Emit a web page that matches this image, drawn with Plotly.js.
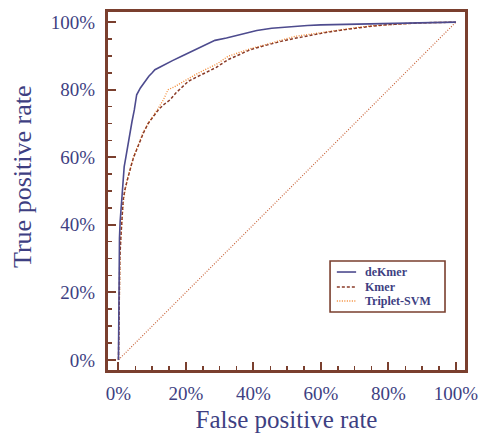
<!DOCTYPE html>
<html>
<head>
<meta charset="utf-8">
<script src="https://cdn.plot.ly/plotly-3.0.1.min.js"></script>
<style>html,body{margin:0;padding:0;background:#fff;}#chart{width:489px;height:433px;}</style>
</head>
<body>
<div id="chart"></div>
<script>
// ROC curves
const deKmerFPR = [0, 0.001, 0.003, 0.005, 0.007, 0.009, 0.013, 0.017, 0.022, 0.028, 0.034, 0.04, 0.047, 0.054, 0.065, 0.079, 0.09, 0.1, 0.108, 0.125, 0.138, 0.16, 0.187, 0.21, 0.227, 0.256, 0.286, 0.32, 0.35, 0.375, 0.41, 0.454, 0.49, 0.523, 0.56, 0.6, 0.656, 0.7, 0.75, 0.804, 0.85, 0.89, 0.95, 1.0];
const deKmerTPR = [0, 0.2, 0.36, 0.41, 0.44, 0.474, 0.52, 0.572, 0.6, 0.64, 0.673, 0.705, 0.74, 0.785, 0.805, 0.825, 0.84, 0.85, 0.859, 0.868, 0.874, 0.886, 0.899, 0.91, 0.92, 0.933, 0.946, 0.953, 0.96, 0.968, 0.975, 0.982, 0.985, 0.988, 0.99, 0.992, 0.993, 0.995, 0.996, 0.997, 0.998, 0.999, 1.0, 1.0];

const kmerFPR = [0, 0.002, 0.004, 0.007, 0.009, 0.012, 0.014, 0.019, 0.025, 0.031, 0.037, 0.045, 0.054, 0.064, 0.074, 0.088, 0.103, 0.118, 0.133, 0.153, 0.17, 0.19, 0.207, 0.227, 0.256, 0.29, 0.325, 0.36, 0.39, 0.424, 0.46, 0.49, 0.523, 0.56, 0.607, 0.65, 0.706, 0.75, 0.804, 0.85, 0.9, 0.95, 1.0];
const kmerTPR = [0, 0.2, 0.3, 0.36, 0.406, 0.44, 0.474, 0.504, 0.53, 0.55, 0.573, 0.6, 0.622, 0.648, 0.672, 0.7, 0.721, 0.74, 0.755, 0.77, 0.79, 0.81, 0.825, 0.835, 0.849, 0.866, 0.889, 0.905, 0.918, 0.928, 0.938, 0.945, 0.952, 0.96, 0.968, 0.975, 0.983, 0.988, 0.993, 0.996, 0.998, 0.999, 1.0];

const tripletFPR = [0, 0.003, 0.005, 0.008, 0.01, 0.013, 0.016, 0.02, 0.026, 0.032, 0.038, 0.046, 0.054, 0.063, 0.074, 0.088, 0.103, 0.118, 0.133, 0.138, 0.147, 0.165, 0.185, 0.207, 0.227, 0.256, 0.29, 0.325, 0.36, 0.39, 0.424, 0.46, 0.49, 0.523, 0.56, 0.607, 0.65, 0.706, 0.75, 0.804, 0.85, 0.9, 0.95, 1.0];
const tripletTPR = [0, 0.22, 0.32, 0.38, 0.42, 0.45, 0.48, 0.508, 0.535, 0.555, 0.578, 0.605, 0.625, 0.65, 0.675, 0.7, 0.722, 0.745, 0.77, 0.78, 0.8, 0.808, 0.82, 0.834, 0.844, 0.859, 0.875, 0.899, 0.912, 0.921, 0.93, 0.94, 0.948, 0.958, 0.963, 0.97, 0.977, 0.984, 0.989, 0.993, 0.996, 0.998, 0.999, 1.0];

const chanceX = [0, 1];
const chanceY = [0, 1];

const seriesNames = ["deKmer", "Kmer", "Triplet-SVM"];
const tickVals = [0, 0.2, 0.4, 0.6, 0.8, 1.0];
const tickText = ["0%", "20%", "40%", "60%", "80%", "100%"];

const frameColor = "#7a3f2e";
const textColor = "#3e3f82";
const serif = "'Liberation Serif', 'Times New Roman', serif";

const seriesColors = ["#4d4b8e", "#8a3b28", "#f2862e"];
const seriesDash = ["solid", "3px,2px", "1px,1.5px"];
const seriesWidth = [1.6, 1.5, 1.3];

const traces = [
  {x: chanceX, y: chanceY, mode: "lines", showlegend: false, hoverinfo: "skip",
   line: {color: "#c8643a", width: 1.2, dash: "1px,1.6px"}},
  {x: tripletFPR, y: tripletTPR, mode: "lines", name: seriesNames[2], showlegend: false,
   line: {color: seriesColors[2], width: seriesWidth[2], dash: seriesDash[2]}},
  {x: kmerFPR, y: kmerTPR, mode: "lines", name: seriesNames[1], showlegend: false,
   line: {color: seriesColors[1], width: seriesWidth[1], dash: seriesDash[1]}},
  {x: deKmerFPR, y: deKmerTPR, mode: "lines", name: seriesNames[0], showlegend: false,
   line: {color: seriesColors[0], width: seriesWidth[0], dash: seriesDash[0]}}
];

// legend box drawn in paper coordinates
const legendBox = {x0: 0.622, x1: 0.944, y0: 0.162, y1: 0.3045};
const legendRowsY = [0.2737, 0.2318, 0.1927];
const legendLineX = [0.641, 0.695];
const legendTextX = 0.715;

const shapes = [
  {type: "rect", xref: "paper", yref: "paper", x0: legendBox.x0, x1: legendBox.x1, y0: legendBox.y0, y1: legendBox.y1,
   line: {color: frameColor, width: 1.6}, fillcolor: "#ffffff", layer: "above"}
];
const annotations = [];
seriesNames.forEach((n, i) => {
  shapes.push({type: "line", xref: "paper", yref: "paper", x0: legendLineX[0], x1: legendLineX[1],
    y0: legendRowsY[i], y1: legendRowsY[i], layer: "above",
    line: {color: seriesColors[i], width: seriesWidth[i], dash: seriesDash[i]}});
  annotations.push({xref: "paper", yref: "paper", x: legendTextX, y: legendRowsY[i], xanchor: "left", yanchor: "middle",
    showarrow: false, text: "<b>" + n + "</b>", font: {family: serif, size: 12, color: textColor}});
});
// y-axis title placed as in the reference
annotations.push({xref: "paper", yref: "paper", x: -0.241, y: 0.539, xanchor: "center", yanchor: "middle",
  showarrow: false, textangle: -90, text: "True positive rate", font: {family: serif, size: 26, color: textColor}});

const axisCommon = {
  tickvals: tickVals, ticktext: tickText,
  ticks: "inside", ticklen: 8, tickwidth: 2, tickcolor: frameColor,
  minor: {dtick: 0.05, tick0: 0, ticks: "inside", ticklen: 4, tickwidth: 1.5, tickcolor: frameColor, showgrid: false},
  showline: true, linecolor: frameColor, linewidth: 3, mirror: true,
  showgrid: false, zeroline: false,
  tickfont: {family: serif, size: 19, color: textColor}
};

const layout = {
  width: 489, height: 433,
  margin: {l: 108, r: 24, t: 12, b: 63},
  paper_bgcolor: "#fff", plot_bgcolor: "#fff",
  xaxis: Object.assign({}, axisCommon, {
    range: [-0.031, 1.027],
    ticklabelstandoff: 4,
    title: {text: "False positive rate", font: {family: serif, size: 25, color: textColor}, standoff: 8}
  }),
  yaxis: Object.assign({}, axisCommon, {
    range: [-0.03, 1.03],
    ticklabelstandoff: 6
  }),
  shapes: shapes,
  annotations: annotations,
  showlegend: false
};

Plotly.newPlot("chart", traces, layout, {displayModeBar: false, staticPlot: true});
</script>
</body>
</html>
